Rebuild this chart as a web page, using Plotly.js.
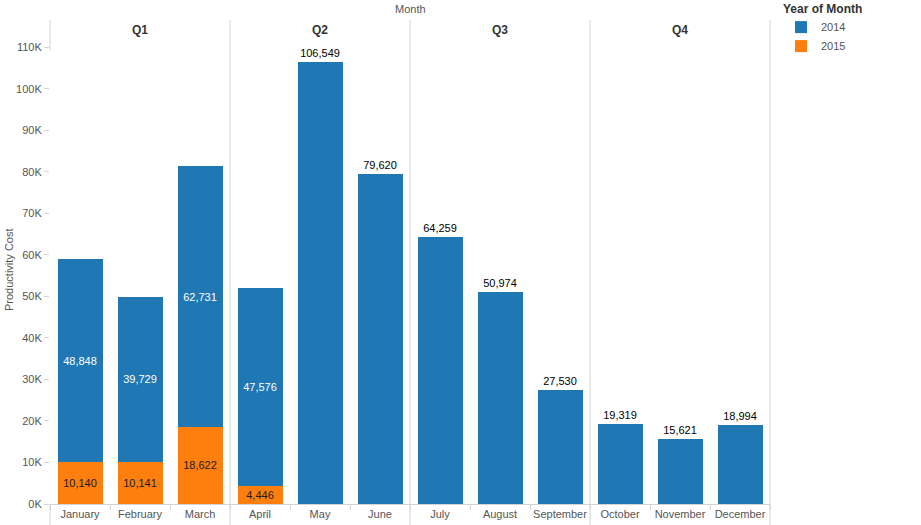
<!DOCTYPE html>
<html>
<head>
<meta charset="utf-8">
<script src="https://cdn.plot.ly/plotly-3.0.1.min.js"></script>
<style>html,body{margin:0;padding:0;background:#fff;overflow:hidden;}#chart{width:921px;height:525px;}</style>
</head>
<body>
<div id="chart"></div>
<script>
const months = ["January","February","March","April","May","June","July","August","September","October","November","December"];
const quarters = ["Q1","Q2","Q3","Q4"];
const cost2014 = [48848, 39729, 62731, 47576, 106549, 79620, 64259, 50974, 27530, 19319, 15621, 18994];
const cost2015 = [10140, 10141, 18622, 4446, null, null, null, null, null, null, null, null];
const yTickVals = [0,10000,20000,30000,40000,50000,60000,70000,80000,90000,100000,110000];
const yTickText = ["0K","10K","20K","30K","40K","50K","60K","70K","80K","90K","100K","110K"];

const fmt = v => v == null ? "" : v.toLocaleString("en-US");
const FONT = "Liberation Sans, Arial, sans-serif";

const pos2014 = cost2014.map((v,i) => cost2015[i] != null ? "inside" : "outside");

const traces = [
  {
    type: "bar", name: "2015", x: months, y: cost2015,
    marker: {color: "#ff7f0e"},
    text: cost2015.map(fmt), textposition: "inside", insidetextanchor: "middle",
    insidetextfont: {color: "#1a1a1a", size: 11, family: FONT},
    constraintext: "none", hoverinfo: "none"
  },
  {
    type: "bar", name: "2014", x: months, y: cost2014,
    marker: {color: "#1f77b4"},
    text: cost2014.map(fmt), textposition: pos2014, insidetextanchor: "middle",
    insidetextfont: {color: "#ffffff", size: 11, family: FONT},
    outsidetextfont: {color: "#000000", size: 11, family: FONT},
    constraintext: "none", cliponaxis: false, hoverinfo: "none"
  }
];

// px helpers: plot area x 50..770, y 20..504
const L = 50, R = 770, T = 20, B = 504;
const px2x = p => (p - L) / (R - L);
const px2y = p => (B - p) / (B - T);

const shapes = [];
const sepX = [230, 410, 590, 770];
sepX.forEach(x => shapes.push({type:"line", xref:"paper", yref:"paper", x0:px2x(x), x1:px2x(x), y0:px2y(525), y1:1, line:{color:"#d4d4d4", width:1}}));
shapes.push({type:"line", xref:"paper", yref:"paper", x0:0, x1:0, y0:px2y(50), y1:1, line:{color:"#d4d4d4", width:1}});
shapes.push({type:"line", xref:"paper", yref:"paper", x0:0, x1:0, y0:px2y(525), y1:0, line:{color:"#d4d4d4", width:1}});

const annotations = [];
quarters.forEach((q,i) => annotations.push({
  text: "<b>" + q + "</b>", xref:"paper", yref:"paper",
  x: px2x(140 + 180*i), y: px2y(30), showarrow:false,
  font:{size:12, color:"#333333", family:FONT}, xanchor:"center", yanchor:"middle"
}));
annotations.push({text:"Month", xref:"paper", yref:"paper", x:px2x(410), y:px2y(9), showarrow:false,
  font:{size:11, color:"#555555", family:FONT}, xanchor:"center", yanchor:"middle"});
annotations.push({text:"Productivity Cost", xref:"paper", yref:"paper", x:px2x(9), y:px2y(270), showarrow:false,
  textangle:-90, font:{size:11, color:"#555555", family:FONT}, xanchor:"center", yanchor:"middle"});

const layout = {
  width: 921, height: 525,
  margin: {l: L, r: 921 - R, t: T, b: 525 - B, pad: 0, autoexpand: false},
  paper_bgcolor: "#ffffff", plot_bgcolor: "#ffffff",
  barmode: "stack", bargap: 0.25,
  font: {family: FONT, size: 11, color: "#555555"},
  showlegend: true,
  legend: {
    x: px2x(781), y: px2y(-3), xanchor: "left", yanchor: "top",
    traceorder: "reversed", itemwidth: 30,
    title: {text: "<b>Year of Month</b>", font: {size: 12, color: "#333333", family: FONT}},
    font: {size: 11, color: "#555555", family: FONT},
    bgcolor: "rgba(0,0,0,0)", tracegroupgap: 0
  },
  xaxis: {
    type: "category", categoryorder: "array", categoryarray: months,
    showgrid: false, zeroline: false, automargin: false,
    showline: true, linecolor: "#d4d4d4", linewidth: 1,
    ticks: "outside", tickson: "boundaries", ticklen: 5, tickcolor: "#d4d4d4",
    tickangle: 0,
    tickfont: {size: 11, color: "#555555", family: FONT},
    fixedrange: true
  },
  yaxis: {
    range: [0, 116600], automargin: false,
    tickvals: yTickVals, ticktext: yTickText,
    showgrid: false, zeroline: false, showline: false,
    ticks: "outside", ticklen: 5, tickcolor: "#d4d4d4",
    tickfont: {size: 11, color: "#555555", family: FONT},
    fixedrange: true
  },
  shapes: shapes,
  annotations: annotations
};

Plotly.newPlot("chart", traces, layout, {displayModeBar: false, staticPlot: true});
</script>
</body>
</html>
